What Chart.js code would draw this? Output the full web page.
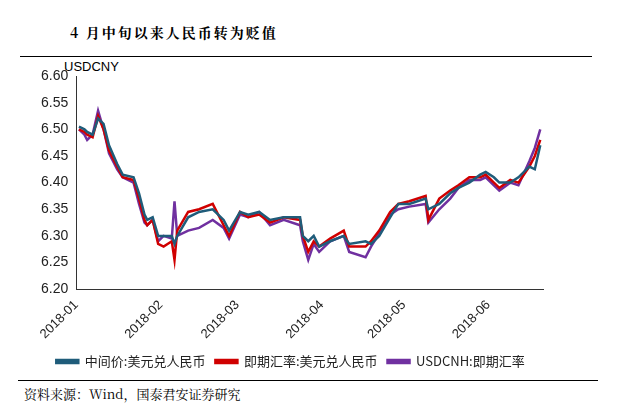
<!DOCTYPE html>
<html><head><meta charset="utf-8">
<script src="https://cdn.jsdelivr.net/npm/chart.js@4"></script>
<style>
body{margin:0;background:#fff;width:621px;height:409px;position:relative;overflow:hidden;font-family:"Liberation Sans",Arial,sans-serif}
#title{position:absolute;left:70px;top:22px;font:bold 14px "Noto Serif CJK SC","Noto Sans CJK SC",serif;letter-spacing:2px}
#rule{position:absolute;left:20px;top:56px;width:572px;border-top:1px solid #000}
#unit{position:absolute;left:64px;top:59px;font-size:13px}
#src{position:absolute;left:18px;top:380px;font:13px "Noto Serif CJK SC","Noto Sans CJK SC",serif;border-top:1px solid #000;width:574px;padding-top:3px;padding-left:6px}
#wrap{position:absolute;left:0;top:62px;width:610px;height:316px}
</style></head><body>
<div id="title">4 月中旬以来人民币转为贬值</div>
<div id="rule"></div>
<div id="unit">USDCNY</div>
<div id="wrap"><canvas id="c"></canvas></div>
<div id="src">资料来源：Wind，国泰君安证券研究</div>
<script>
// days since 2018-01-01
const days = [1,3,4,6,8,10,12,15,17,21,23,25,26,28,30,32,35,36,37,41,45,50,54,56,60,63,67,71,76,82,83,85,87,89,93,98,100,106,108,111,115,118,122,128,129,133,137,140,144,148,150,153,155,159,162,166,168,170];
const cny   = [6.505,6.50,6.495,6.49,6.52,6.51,6.47,6.435,6.415,6.41,6.38,6.34,6.33,6.335,6.30,6.30,6.30,6.285,6.30,6.335,6.345,6.35,6.33,6.31,6.345,6.34,6.345,6.33,6.335,6.335,6.30,6.29,6.30,6.28,6.29,6.30,6.285,6.29,6.285,6.30,6.335,6.36,6.36,6.37,6.35,6.36,6.38,6.39,6.40,6.415,6.42,6.41,6.40,6.40,6.41,6.43,6.425,6.47];
const spot  = [6.50,6.495,6.49,6.485,6.525,6.50,6.46,6.43,6.41,6.405,6.37,6.33,6.32,6.33,6.285,6.28,6.29,6.255,6.31,6.345,6.35,6.36,6.32,6.30,6.345,6.335,6.34,6.325,6.335,6.33,6.30,6.27,6.29,6.28,6.295,6.31,6.28,6.28,6.29,6.31,6.345,6.36,6.365,6.375,6.33,6.37,6.385,6.395,6.41,6.41,6.415,6.40,6.39,6.405,6.40,6.43,6.45,6.48];
const cnh   = [6.50,6.49,6.48,6.49,6.535,6.50,6.455,6.425,6.41,6.40,6.36,6.325,6.32,6.33,6.29,6.30,6.295,6.365,6.30,6.31,6.315,6.33,6.315,6.295,6.34,6.335,6.345,6.32,6.33,6.32,6.29,6.255,6.285,6.27,6.29,6.30,6.27,6.26,6.28,6.305,6.34,6.35,6.355,6.36,6.325,6.35,6.37,6.39,6.405,6.405,6.41,6.395,6.385,6.40,6.395,6.44,6.465,6.50];
const monthTicks = [0,31,59,90,120,151];
const monthLabels = ['2018-01','2018-02','2018-03','2018-04','2018-05','2018-06'];

const mk = (label, vals, color) => ({
  label, data: days.map((d, i) => ({x: d, y: vals[i]})),
  borderColor: color, backgroundColor: color, borderWidth: 2.5, pointRadius: 0, tension: 0
});

new Chart(document.getElementById('c'), {
  type: 'line',
  data: { datasets: [
    mk('中间价:美元兑人民币', cny, '#1F5C7A'),
    mk('即期汇率:美元兑人民币', spot, '#D00000'),
    mk('USDCNH:即期汇率', cnh, '#7030A0')
  ]},
  options: {
    responsive: true, maintainAspectRatio: false, animation: false,
    layout: { padding: { left: 38, right: 67, top: 14 } },
    plugins: {
      legend: { position: 'bottom', labels: { boxWidth: 22, boxHeight: 3, color: '#222', font: { size: 13, family: 'Noto Sans CJK SC' }, padding: 10 } },
      tooltip: { enabled: false }
    },
    scales: {
      x: {
        type: 'linear', min: 0, max: 171,
        afterBuildTicks: s => { s.ticks = monthTicks.map(v => ({value: v})); },
        ticks: { callback: (v) => monthLabels[monthTicks.indexOf(v)], maxRotation: 45, minRotation: 45, color: '#222', font: { size: 13 } },
        grid: { display: false, drawTicks: true, tickLength: 5, color: '#333' },
        border: { color: '#333' }
      },
      y: {
        min: 6.2, max: 6.6,
        ticks: { stepSize: 0.05, callback: v => v.toFixed(2), color: '#222', font: { size: 14 } },
        grid: { display: false, drawTicks: true, tickLength: 5, color: '#333' },
        border: { color: '#333' }
      }
    }
  }
});
</script>
</body></html>
